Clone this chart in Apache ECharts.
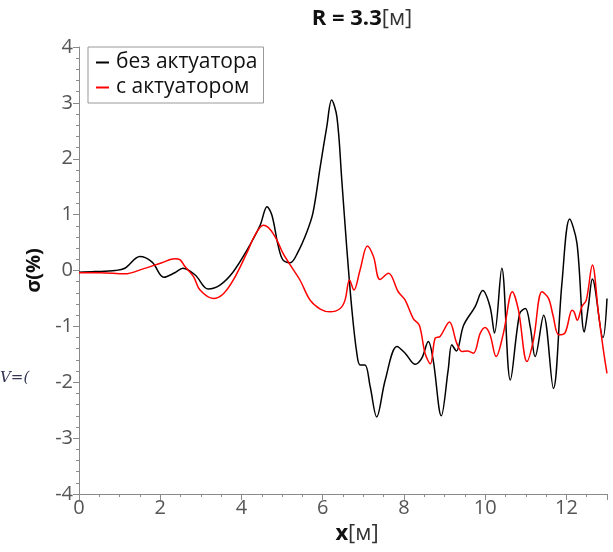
<!DOCTYPE html>
<html lang="ru">
<head>
<meta charset="utf-8">
<title>R = 3.3</title>
<script src="https://cdn.jsdelivr.net/npm/echarts@6/dist/echarts.min.js"></script>
<style>
  html, body { margin: 0; padding: 0; background: #fff; }
  #main { width: 613px; height: 552px; }
</style>
</head>
<body>
<div id="main"></div>
<script type="text/javascript">
  // без актуатора (черная)
  var xBlack = [0, 0.39, 0.89, 1.13, 1.50, 1.80, 2.09, 2.36, 2.56, 2.86, 3.18, 3.47, 3.79, 4.14, 4.46, 4.63, 4.75, 4.90, 5.02, 5.20,
    5.39, 5.61, 5.76, 5.94, 6.10, 6.22, 6.35, 6.47, 6.59, 6.72, 6.84, 6.92, 7.04, 7.17, 7.33, 7.54, 7.83, 8.03, 8.28, 8.44,
    8.60, 8.72, 8.92, 9.09, 9.18, 9.29, 9.47, 9.75, 9.94, 10.12, 10.23, 10.41, 10.62, 10.85, 10.99, 11.11, 11.23, 11.44, 11.68, 11.89,
    12.08, 12.26, 12.44, 12.54, 12.64, 12.90, 13.0];
  var yBlack = [-0.03, -0.02, 0.0, 0.04, 0.25, 0.15, -0.12, -0.04, 0.04, -0.08, -0.33, -0.26, -0.03, 0.37, 0.81, 1.14, 0.99, 0.46, 0.19, 0.14,
    0.33, 0.69, 1.03, 1.86, 2.57, 3.05, 2.75, 1.62, 0.43, -0.71, -1.48, -1.69, -1.69, -2.08, -2.62, -1.96, -1.36, -1.48, -1.68, -1.57,
    -1.27, -1.60, -2.60, -1.78, -1.33, -1.44, -0.98, -0.65, -0.36, -0.65, -1.12, 0.04, -1.96, -0.77, -0.68, -1.01, -1.54, -0.80, -2.11, -0.23,
    0.92, 0.49, -1.10, -0.65, -0.15, -1.20, -0.50];

  // с актуатором (красная)
  var xRed = [0, 0.52, 1.13, 1.54, 2.04, 2.36, 2.49, 2.61, 2.82, 2.98, 3.31, 3.55, 3.80, 4.13, 4.34, 4.54, 4.70, 4.87, 5.02, 5.20,
    5.44, 5.69, 5.94, 6.18, 6.43, 6.55, 6.66, 6.77, 6.92, 7.10, 7.25, 7.41, 7.62, 7.86, 8.03, 8.23, 8.38, 8.52, 8.65, 8.77,
    8.89, 9.12, 9.30, 9.43, 9.56, 9.71, 9.88, 10.00, 10.12, 10.27, 10.45, 10.67, 10.82, 11.03, 11.19, 11.40, 11.56, 11.67, 11.81, 11.97,
    12.14, 12.19, 12.27, 12.38, 12.49, 12.64, 12.79, 12.91, 13.0];
  var yRed = [-0.04, -0.04, -0.06, 0.02, 0.14, 0.21, 0.19, 0.07, -0.11, -0.35, -0.50, -0.42, -0.17, 0.31, 0.64, 0.81, 0.74, 0.55, 0.31, 0.10,
    -0.17, -0.53, -0.69, -0.74, -0.68, -0.53, -0.17, -0.35, 0.01, 0.44, 0.25, -0.16, -0.05, -0.38, -0.53, -0.86, -0.98, -1.48, -1.67, -1.21,
    -1.18, -0.92, -1.30, -1.45, -1.44, -1.48, -1.12, -1.02, -1.15, -1.54, -1.12, -0.38, -0.71, -1.63, -1.24, -0.38, -0.50, -0.80, -1.15, -1.11,
    -0.71, -0.74, -0.89, -0.65, -0.53, 0.10, -0.77, -1.42, -1.84];

  var seriesNames = ['без актуатора', 'с актуатором'];

  function pairs(xs, ys) {
    var arr = [];
    for (var i = 0; i < xs.length; i++) {
      arr.push([xs[i], ys[i]]);
    }
    return arr;
  }

  var myChart = echarts.init(document.getElementById('main'));
  var axisColor = '#8a8a8a';
  var labelColor = '#555';
  var fontName = 'Open Sans';

  var option = {
    animation: false,
    backgroundColor: '#fff',
    title: {
      text: '{b|R = 3.3}{n|[м]}',
      left: 357,
      textAlign: 'center',
      top: 3,
      textStyle: {
        rich: {
          b: { fontFamily: fontName, fontWeight: 'bold', fontSize: 22, color: '#111' },
          n: { fontFamily: fontName, fontWeight: 'normal', fontSize: 22, color: '#333' }
        }
      }
    },
    legend: {
      data: seriesNames,
      orient: 'vertical',
      left: 88,
      top: 47,
      padding: [5, 6, 5, 8],
      itemGap: 4,
      itemWidth: 13,
      itemHeight: 2,
      icon: 'rect',
      borderColor: '#999',
      borderWidth: 1,
      backgroundColor: '#fff',
      textStyle: { fontFamily: fontName, fontSize: 21, color: '#111', padding: [0, 0, 0, 2] }
    },
    grid: { left: 79, right: 6, top: 47, bottom: 58 },
    xAxis: {
      type: 'value',
      min: 0,
      max: 13,
      interval: 2,
      name: '{b|x}{n|[м]}',
      nameLocation: 'middle',
      nameGap: 27,
      nameTextStyle: {
        padding: [0, 0, 0, 28],
        rich: {
          b: { fontFamily: fontName, fontWeight: 'bold', fontSize: 22, color: '#111' },
          n: { fontFamily: fontName, fontSize: 22, color: '#333' }
        }
      },
      axisLine: { onZero: false, lineStyle: { color: axisColor, width: 1 } },
      axisTick: { length: 6, lineStyle: { color: axisColor } },
      minorTick: { show: true, splitNumber: 4, length: 3, lineStyle: { color: axisColor } },
      axisLabel: { fontFamily: fontName, fontSize: 20, color: labelColor, margin: 4, showMaxLabel: false },
      splitLine: { show: false }
    },
    yAxis: {
      type: 'value',
      min: -4,
      max: 4,
      interval: 1,
      name: 'σ(%)',
      nameLocation: 'middle',
      nameGap: 31,
      nameTextStyle: { fontFamily: fontName, fontWeight: 'bold', fontSize: 20, color: '#111' },
      axisLine: { show: true, onZero: false, lineStyle: { color: axisColor, width: 1 } },
      axisTick: { show: true, length: 6, lineStyle: { color: axisColor } },
      minorTick: { show: true, splitNumber: 5, length: 3, lineStyle: { color: axisColor } },
      axisLabel: { fontFamily: fontName, fontSize: 20, color: labelColor, margin: 6 },
      splitLine: { show: false }
    },
    graphic: [
      {
        type: 'text',
        left: 0,
        top: 371,
        style: { text: 'V=(', font: 'italic 15px "DejaVu Serif"', fill: '#335' }
      }
    ],
    series: [
      {
        name: seriesNames[0],
        type: 'line',
        data: pairs(xBlack, yBlack),
        showSymbol: false,
        smooth: 0.35,
        color: '#000',
        lineStyle: { color: '#000', width: 1.5 }
      },
      {
        name: seriesNames[1],
        type: 'line',
        data: pairs(xRed, yRed),
        showSymbol: false,
        smooth: 0.35,
        color: '#ff0000',
        lineStyle: { color: '#ff0000', width: 1.5 }
      }
    ]
  };

  myChart.setOption(option);
</script>
</body>
</html>
